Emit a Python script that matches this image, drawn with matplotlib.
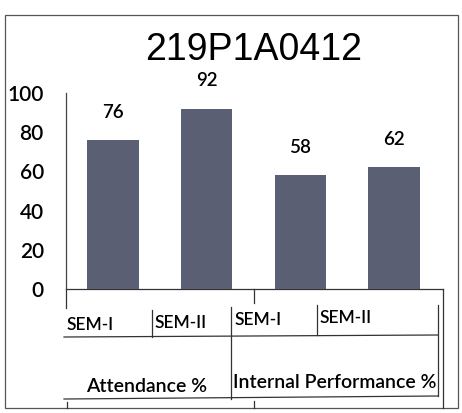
import matplotlib.pyplot as plt
from matplotlib.patches import Rectangle

title = "219P1A0412"
groups = ["Attendance %", "Internal Performance %"]
sems = ["SEM-I", "SEM-II", "SEM-I", "SEM-II"]
values = [76, 92, 58, 62]
yticks = [0, 20, 40, 60, 80, 100]

W, H = 462, 413
fig = plt.figure(figsize=(W / 100, H / 100), dpi=100)
fig.patch.set_facecolor("white")

FONT = "Lato"
WT = "semibold"

# main plot axes (pixel geometry -> figure fractions)
x0, x1 = 66, 441
yb, yt = 289, 93
ax = fig.add_axes([x0 / W, (H - yb) / H, (x1 - x0) / W, (yb - yt) / H])
ax.set_facecolor("none")
xs = list(range(len(values)))
ax.bar(xs, values, width=0.55, color="#5b5f74", zorder=2)
ax.set_xlim(-0.5, 3.5)
ax.set_ylim(0, 100)
ax.set_yticks(yticks)
ax.set_yticklabels([str(v) for v in yticks], fontsize=15, family=FONT, weight=WT)
ax.tick_params(axis="y", length=0, pad=16)
ax.set_xticks([])
for s in ["top", "right", "bottom"]:
    ax.spines[s].set_visible(False)
ax.spines["left"].set_color("#444444")
ax.spines["left"].set_linewidth(0.9)
for x, v in zip(xs, values):
    ax.annotate(str(v), (x, v), xytext=(0, 20), textcoords="offset points",
                ha="center", va="center", fontsize=13.5, family=FONT, weight=WT)

# overlay for frame, title and category table
ov = fig.add_axes([0, 0, 1, 1], zorder=-1)
ov.set_xlim(0, W)
ov.set_ylim(H, 0)
ov.axis("off")
ov.add_patch(Rectangle((5, 15), 453, 393, fill=False, ec="#555555", lw=0.9))
ov.text(254, 50, title, ha="center", va="center", fontsize=27,
        family="Liberation Sans")

lc = dict(color="#333333", lw=0.9)
segs = [
    ((66, 443), (289, 289)),
    ((66, 66), (289, 308)),
    ((254, 254), (289, 303)),
    ((443, 443), (289, 408)),
    ((152, 152), (310, 337)),
    ((231, 231), (307, 399)),
    ((317, 317), (305, 335)),
    ((438, 438), (305, 396)),
    ((64, 438), (337, 335)),
    ((64, 438), (399, 396)),
    ((67, 67), (402, 408)),
    ((254, 254), (401, 408)),
]
for xx, yy in segs:
    ov.plot(xx, yy, **lc)

sem_pos = [(67, 325), (155, 323), (235, 320), (320, 318)]
for (px, py), lab in zip(sem_pos, sems):
    ov.text(px, py, lab, ha="left", va="center", fontsize=12.5, family=FONT,
            weight=WT)
grp_pos = [(147, 386), (335, 383)]
for (px, py), lab in zip(grp_pos, groups):
    ov.text(px, py, lab, ha="center", va="center", fontsize=14, family=FONT,
            weight=WT)

fig.savefig("out.png", dpi=100)
